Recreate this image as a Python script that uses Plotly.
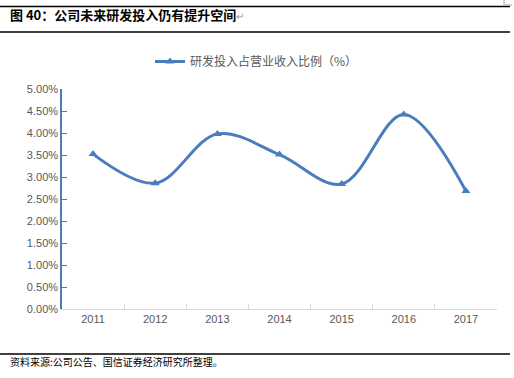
import plotly.graph_objects as go

years = ["2011", "2012", "2013", "2014", "2015", "2016", "2017"]
ratio = [0.0352, 0.0286, 0.0398, 0.0351, 0.0284, 0.0442, 0.0268]
series_name = "研发投入占营业收入比例（%）"
title_text = "图 40：公司未来研发投入仍有提升空间"
source_text = "资料来源:公司公告、国信证券经济研究所整理。"

W, H = 514, 378
L, R, T, B = 62, 17, 89, 69
PW, PH = W - L - R, H - T - B

def px(x):
    return (x - L) / PW

def py(y):
    return (H - B - y) / PH

blue = "#4a7ebb"
grey_txt = "#595959"

fig = go.Figure()
fig.add_trace(go.Scatter(
    x=years, y=ratio, name=series_name, mode="lines+markers",
    line=dict(color=blue, width=3, shape="spline", smoothing=1.0),
    marker=dict(symbol="triangle-up", size=8, color=blue),
))

shapes = []
for yy in (6.5, 32, 354):
    shapes.append(dict(type="line", xref="paper", yref="paper", layer="above",
                       x0=px(0), x1=px(510), y0=py(yy), y1=py(yy),
                       line=dict(color="black", width=1.5)))
# small corner mark at top right
shapes.append(dict(type="line", xref="paper", yref="paper",
                   x0=px(504), x1=px(504), y0=py(0), y1=py(5),
                   line=dict(color="#aaaaaa", width=1)))
shapes.append(dict(type="line", xref="paper", yref="paper",
                   x0=px(504), x1=px(512), y0=py(5), y1=py(5),
                   line=dict(color="#aaaaaa", width=1)))

fig.update_layout(
    width=W, height=H,
    margin=dict(l=L, r=R, t=T, b=B),
    paper_bgcolor="white", plot_bgcolor="white",
    font=dict(family="Noto Sans CJK SC, Liberation Sans, sans-serif", size=11, color=grey_txt),
    showlegend=True,
    legend=dict(orientation="h", x=px(150), xanchor="left", y=py(47), yanchor="top",
                font=dict(size=12, color=grey_txt), bgcolor="rgba(0,0,0,0)"),
    shapes=shapes,
    annotations=[
        dict(text="<b>" + title_text + "</b><span style='color:#999999;font-size:10px'>↵</span>",
             xref="paper", yref="paper", x=px(8), y=py(14), xanchor="left", yanchor="middle",
             showarrow=False, font=dict(size=13, color="black",
                                        family="Noto Sans CJK SC, sans-serif")),
        dict(text=source_text, xref="paper", yref="paper", x=px(8), y=py(361),
             xanchor="left", yanchor="middle", showarrow=False,
             font=dict(size=10, color="black", family="Noto Sans CJK SC, sans-serif")),
    ],
)
fig.update_xaxes(
    type="category", showgrid=False, showline=True, linecolor="#d9d9d9", linewidth=1,
    ticks="inside", tickson="boundaries", ticklen=5, tickcolor="#d9d9d9",
    tickfont=dict(family="Liberation Sans, Arial, sans-serif", size=11, color=grey_txt),
    range=[-0.5, 6.5], zeroline=False,
)
fig.update_yaxes(
    range=[0, 0.05], dtick=0.005, tickformat=".2%", showgrid=False,
    showline=True, linecolor=blue, linewidth=1.5,
    ticks="inside", ticklen=5, tickcolor=blue,
    tickfont=dict(family="Liberation Sans, Arial, sans-serif", size=11, color=grey_txt),
    zeroline=False,
)

fig.write_html("out.html", config={"displayModeBar": False},
               post_script="document.body.style.margin='0';")
